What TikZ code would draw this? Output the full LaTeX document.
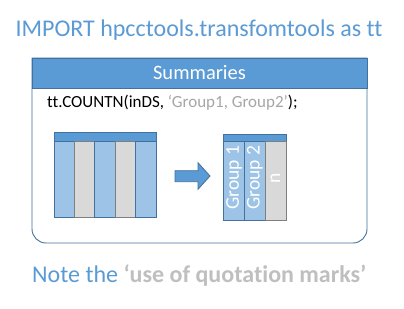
\documentclass[tikz,border=0pt]{standalone}
\usepackage{fontspec}
\setmainfont{Carlito}[Ligatures={NoCommon}]
\definecolor{accent}{HTML}{5B9BD5}
\definecolor{edge}{HTML}{41719C}
\definecolor{colblue}{HTML}{9DC3E6}
\definecolor{colgrey}{HTML}{D9D9D9}
\definecolor{greyedge}{HTML}{7F7F7F}
\definecolor{quotegrey}{HTML}{A6A6A6}
\definecolor{notegrey}{HTML}{BFBFBF}
\begin{document}
\begin{tikzpicture}[x=1pt,y=-1pt,
  bluecol/.style={draw=edge,fill=colblue,line width=0.8pt},
  greycol/.style={draw=greyedge,fill=colgrey,line width=0.8pt},
  headbar/.style={draw=edge,fill=accent,line width=0.8pt},
  vlabel/.style={rotate=90,text=white,inner sep=0pt,font=\fontsize{19.5}{22}\selectfont}]
\useasboundingbox[fill=white] (0,0) rectangle (404,308);

% title line
\node[anchor=base,text=accent,inner sep=0pt,font=\fontsize{24}{28}\selectfont]
  (title) at (199,36) {IMPORT hpcctools.transfomtools as tt};

% panel: white body with rounded lower corners, blue header bar
\draw[edge,line width=0.9pt,fill=white]
  (32,58) [rounded corners=14pt] -- (32,243) -- (367,243) [sharp corners] -- (367,58) -- cycle;
\node[headbar,anchor=north west,minimum width=335pt,minimum height=30pt,inner sep=0pt]
  (header) at (32,58) {};
\node[anchor=base,text=white,inner sep=0pt,font=\fontsize{20.5}{24}\selectfont]
  (summ) at (199.5,79) {Summaries};

% code line
\node[anchor=base west,inner sep=0pt,font=\fontsize{17}{20}\selectfont]
  (code) at (47,107) {tt.COUNTN(inDS, \textcolor{quotegrey}{‘Group1, Group2’});};

% input dataset: five columns under a header bar
\draw[headbar] (54,132) rectangle (156,141);
\draw[bluecol] (54,141) rectangle (74.3,217);
\draw[greycol] (74.3,141) rectangle (94.3,217);
\draw[bluecol] (94.3,141) rectangle (115.7,217);
\draw[greycol] (115.7,141) rectangle (135.7,217);
\draw[bluecol] (135.7,141) rectangle (156,217);

% block arrow
\draw[edge,fill=accent,line width=0.8pt]
  (175,170.7) -- (198,170.7) -- (198,162.7) -- (210,176) -- (198,189.3)
  -- (198,181.7) -- (175,181.7) -- cycle;

% result: two group columns and the count column
\draw[greycol] (265,134) rectangle (286,220);
\draw[headbar] (223.3,134) rectangle (286,141.7);
\draw[bluecol] (223.3,141.7) rectangle (244.3,220);
\draw[bluecol] (244.3,141.7) rectangle (265,220);
\draw[greycol] (265,141.7) rectangle (286,220);
\node[vlabel] (g1) at (234,177.5) {Group 1};
\node[vlabel] (g2) at (254.8,177.5) {Group 2};
\node[vlabel] (cnt) at (275.5,178) {n};

% note below the panel
\node[anchor=base west,inner sep=0pt,font=\fontsize{24}{28}\selectfont]
  (note) at (32,282) {\textcolor{accent}{Note the} \textcolor{notegrey}{\bfseries ‘use of quotation marks’}};
\end{tikzpicture}
\end{document}
